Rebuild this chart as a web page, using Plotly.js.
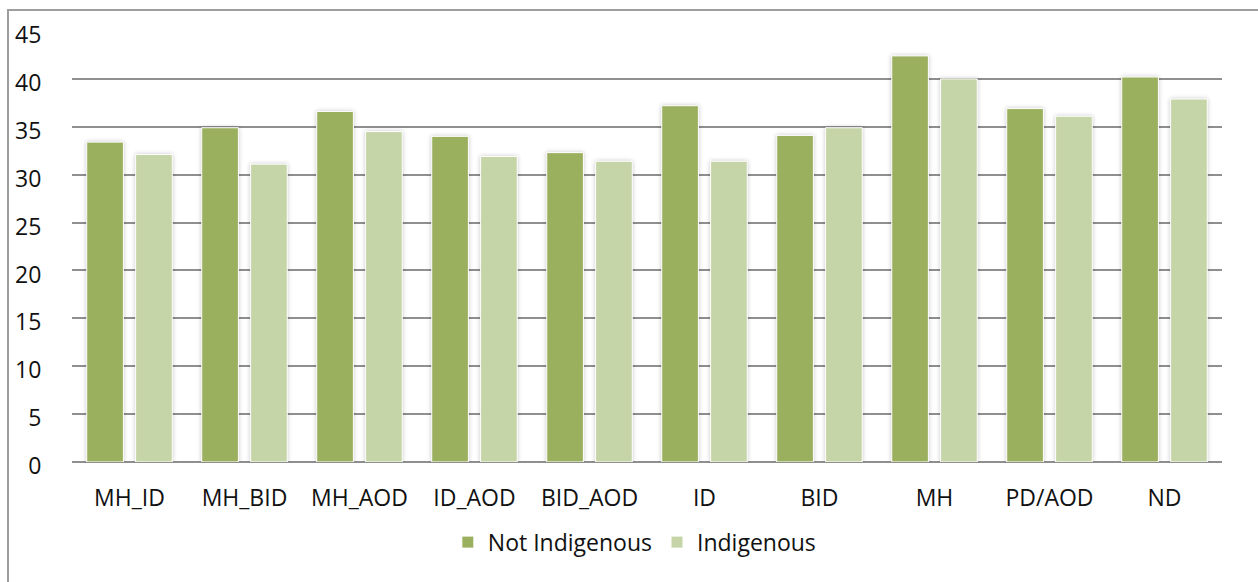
<!DOCTYPE html>
<html>
<head>
<meta charset="utf-8">
<script src="https://cdn.plot.ly/plotly-3.0.1.min.js"></script>
<style>
  html, body { margin: 0; padding: 0; background: #fff; overflow: hidden; }
  #chart { width: 1258px; height: 582px; position: relative; }
  #frame {
    position: absolute; left: 7px; top: 9px; width: 1300px; height: 700px;
    border-left: 2px solid #9d9d9d; border-top: 2px solid #9d9d9d;
    pointer-events: none; box-sizing: border-box;
  }
  .trace.bars .point path { filter: drop-shadow(0 0 2px rgba(0,0,0,0.22)); }
</style>
</head>
<body>
<div id="chart"></div>
<div id="frame"></div>
<script>
// Diagnostic groups
const categories = ["MH_ID", "MH_BID", "MH_AOD", "ID_AOD", "BID_AOD", "ID", "BID", "MH", "PD/AOD", "ND"];
// Values per group
const notIndigenous = [33.4, 34.9, 36.6, 34.0, 32.3, 37.2, 34.1, 42.4, 36.9, 40.2];
const indigenous    = [32.1, 31.1, 34.5, 31.9, 31.4, 31.4, 34.9, 40.0, 36.1, 37.9];
const yTicks = [0, 5, 10, 15, 20, 25, 30, 35, 40, 45];

const FONT = "'Open Sans', Lato, sans-serif";
const TEXT = "#111111";

const traces = [
  {
    type: "bar", name: "Not Indigenous", x: categories, y: notIndigenous,
    marker: { color: "#9bb05e", line: { color: "#ffffff", width: 1 } },
    hoverinfo: "x+y"
  },
  {
    type: "bar", name: "Indigenous", x: categories, y: indigenous,
    marker: { color: "#c6d5a7", line: { color: "#ffffff", width: 1 } },
    hoverinfo: "x+y"
  }
];

const layout = {
  width: 1258, height: 582,
  margin: { l: 72, r: 36, t: 31, b: 120 },
  paper_bgcolor: "#ffffff", plot_bgcolor: "#ffffff",
  barmode: "group", bargap: 0.15, bargroupgap: 0.25,
  font: { family: FONT, size: 23, color: TEXT },
  showlegend: true,
  legend: {
    orientation: "h", x: 0.489, xanchor: "center", y: -0.186, yanchor: "middle",
    font: { family: FONT, size: 23, color: TEXT },
    itemclick: false, itemdoubleclick: false
  },
  xaxis: {
    type: "category", range: [-0.5, 9.5],
    showgrid: false, zeroline: false, showline: false,
    ticks: "outside", ticklen: 15, tickcolor: "rgba(0,0,0,0)",
    tickfont: { family: FONT, size: 23, color: TEXT }
  },
  yaxis: {
    range: [0, 45], tickvals: yTicks, ticktext: yTicks.map(String),
    showgrid: true, gridcolor: "#8f8f8f", gridwidth: 2,
    zeroline: true, zerolinecolor: "#8f8f8f", zerolinewidth: 2,
    showline: false,
    ticks: "outside", ticklen: 25, tickcolor: "rgba(0,0,0,0)",
    ticklabelshift: 4,
    tickfont: { family: FONT, size: 23, color: TEXT }
  }
};

Plotly.newPlot("chart", traces, layout, { displayModeBar: false, staticPlot: true });
</script>
</body>
</html>
